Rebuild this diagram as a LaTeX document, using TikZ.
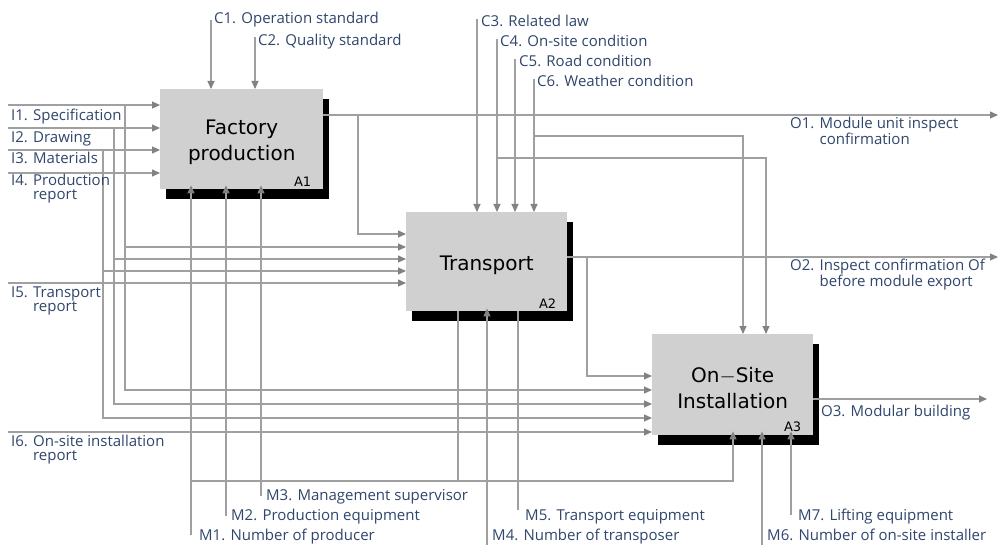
\documentclass[tikz,border=0pt]{standalone}
\usepackage{fontspec}
\setmainfont{Open Sans}
\newfontfamily\boxfont{DejaVu Sans}
\usetikzlibrary{arrows.meta,shadows}
\definecolor{lbl}{RGB}{48,70,108}
\definecolor{ln}{RGB}{160,160,160}
\definecolor{ah}{RGB}{130,130,130}
\definecolor{boxfill}{RGB}{208,208,208}
\newcommand{\upstrut}{\rule{0pt}{21pt}}
\begin{document}
\begin{tikzpicture}[x=1pt,y=-1pt,
  proc/.style={fill=boxfill, inner sep=0pt, anchor=north west, align=center,
     font=\boxfont\fontsize{20}{26}\selectfont,
     drop shadow={shadow xshift=6pt,shadow yshift=-10pt,fill=black,opacity=1}},
  num/.style={font=\boxfont\fontsize{13}{13}\selectfont, inner sep=0pt, anchor=base east},
  conn/.style={draw=ln, line width=1.1pt},
  arr/.style={conn, -{Triangle[length=8pt,width=7pt,color=ah]}},
  lab/.style={text=lbl, inner sep=0pt, anchor=base west, align=left,
     font=\fontsize{15}{14.5}\selectfont}]
\useasboundingbox[fill=white] (0,0) rectangle (998,545);

% boxes
\node[proc, minimum width=163pt, minimum height=100pt] (A1) at (160,89) {\upstrut Factory\\production};
\node[proc, minimum width=161pt, minimum height=99pt] (A2) at (406,212) {\upstrut Transport};
\node[proc, minimum width=161pt, minimum height=101pt] (A3) at (652,334) {\upstrut On\(-\)Site\\Installation};
\node[num] (n1) at ([xshift=-12pt,yshift=3pt]A1.south east) {A1};
\node[num] (n2) at ([xshift=-11pt,yshift=3pt]A2.south east) {A2};
\node[num] (n3) at ([xshift=-12pt,yshift=4pt]A3.south east) {A3};

% coordinates
\coordinate (i1) at (8,105);
\coordinate (i2) at (8,128);
\coordinate (i3) at (8,150);
\coordinate (i4) at (8,173);
\coordinate (i5) at (8,283);
\coordinate (i6) at (8,432);
\coordinate (b1) at (125,105);
\coordinate (b2) at (114,128);
\coordinate (b3) at (103,150);
\coordinate (j1) at (358,115);
\coordinate (j2) at (587,257);
\coordinate (o1) at (998,115);
\coordinate (o2) at (998,257);
\coordinate (o3) at (987,399);
\coordinate (c1) at (211,20);
\coordinate (c2) at (255,37);
\coordinate (c3) at (477,19);
\coordinate (c4) at (497,39);
\coordinate (c5) at (515,59);
\coordinate (c6) at (534,79);
\coordinate (k6) at (534,136);
\coordinate (k4) at (497,158);
\coordinate (m1) at (191,535);
\coordinate (m2) at (226,516);
\coordinate (m3) at (261,496);
\coordinate (h1) at (191,481);
\coordinate (h2) at (458,481);
\coordinate (m4) at (487,545);
\coordinate (m5) at (518,510);
\coordinate (m6) at (762,545);
\coordinate (m7) at (791,515);

% inputs
\draw[arr] (i1) -- (A1.west |- i1);
\draw[arr] (i2) -- (A1.west |- i2);
\draw[arr] (i3) -- (A1.west |- i3);
\draw[arr] (i4) -- (A1.west |- i4);
\draw[arr] (b1) |- (A2.west |- 0,247);
\draw[arr] (b2) |- (A2.west |- 0,259);
\draw[arr] (b3) |- (A2.west |- 0,271);
\draw[arr] (i5) -- (A2.west |- i5);
\draw[arr] (b1) |- (A3.west |- 0,390);
\draw[arr] (b2) |- (A3.west |- 0,404);
\draw[arr] (b3) |- (A3.west |- 0,418);
\draw[arr] (i6) -- (A3.west |- i6);

% outputs
\draw[arr] (A1.east |- o1) -- (o1);
\draw[arr] (j1) |- (A2.west |- 0,234);
\draw[arr] (A2.east |- o2) -- (o2);
\draw[arr] (j2) |- (A3.west |- 0,376);
\draw[arr] (A3.east |- o3) -- (o3);

% controls
\draw[arr] (c1) -- (c1 |- A1.north);
\draw[arr] (c2) -- (c2 |- A1.north);
\draw[arr] (c3) -- (c3 |- A2.north);
\draw[arr] (c4) -- (c4 |- A2.north);
\draw[arr] (c5) -- (c5 |- A2.north);
\draw[arr] (c6) -- (c6 |- A2.north);
\draw[arr] (k6) -| (A3.north -| 743,0);
\draw[arr] (k4) -| (A3.north -| 766,0);

% mechanisms
\draw[arr, shorten >=-4pt] (m1) -- (m1 |- A1.south);
\draw[arr, shorten >=-4pt] (m2) -- (m2 |- A1.south);
\draw[arr, shorten >=-4pt] (m3) -- (m3 |- A1.south);
\draw[arr, shorten >=-4pt] (h1) -| (A3.south -| 733,0);
\draw[conn] (h2) -- (h2 |- A2.south);
\draw[arr, shorten >=-3pt] (m4) -- (m4 |- A2.south);
\draw[conn] (m5) -- (m5 |- A2.south);
\draw[arr, shorten >=-4pt] (m6) -- (m6 |- A3.south);
\draw[arr, shorten >=-4pt] (m7) -- (m7 |- A3.south);

% labels (multi-line nodes are anchored on their last baseline)
\node[lab] (lI1) at (11,120.5) {I1. Specification};
\node[lab] (lI2) at (11,143) {I2. Drawing};
\node[lab] (lI3) at (11,164) {I3. Materials};
\node[lab, font=\fontsize{15}{13.5}\selectfont] (lI4) at (11,199.5) {I4. Production\\\phantom{I4. }report};
\node[lab] (lI5) at (11,311.8) {I5. Transport\\\phantom{I5. }report};
\node[lab, font=\fontsize{15}{14}\selectfont] (lI6) at (11,460.7) {I6. On-site installation\\\phantom{I6. }report};

\node[lab] (lC1) at (214,23.3) {C1. Operation standard};
\node[lab] (lC2) at (258,45.5) {C2. Quality standard};
\node[lab] (lC3) at (481,26.7) {C3. Related law};
\node[lab] (lC4) at (500,46.7) {C4. On-site condition};
\node[lab] (lC5) at (519,66.7) {C5. Road condition};
\node[lab] (lC6) at (537,87) {C6. Weather condition};

\node[lab, font=\fontsize{15}{15}\selectfont] (lO1) at (790,145) {O1. Module unit inspect\\\phantom{O1. }confirmation};
\node[lab] (lO2) at (790,286.5) {O2. Inspect confirmation Of\\\phantom{O2. }before module export};
\node[lab] (lO3) at (821,416.7) {O3. Modular building};

\node[lab] (lM3) at (266,500) {M3. Management supervisor};
\node[lab] (lM2) at (231,520.7) {M2. Production equipment};
\node[lab] (lM1) at (199,540.7) {M1. Number of producer};
\node[lab] (lM5) at (525,520.7) {M5. Transport equipment};
\node[lab] (lM4) at (492,540.7) {M4. Number of transposer};
\node[lab] (lM7) at (798,520.7) {M7. Lifting equipment};
\node[lab] (lM6) at (767,540.7) {M6. Number of on-site installer};
\end{tikzpicture}
\end{document}
